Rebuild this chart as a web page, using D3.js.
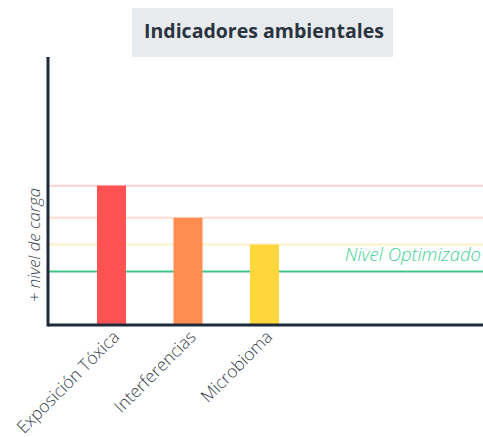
<!DOCTYPE html>
<html><head><meta charset="utf-8">
<script src="https://cdn.jsdelivr.net/npm/d3@7"></script>
<style>body{margin:0;background:#fff}svg{display:block}</style>
</head><body>
<svg id="c" width="483" height="437"></svg>
<script>
const categories = ["Exposición Tóxica", "Interferencias", "Microbioma"];
const values = [5.2, 4.0, 3.0];
const barColors = ["#ff5252", "#ff8c50", "#ffd63c"];
const refLevels = [5.2, 4.0, 3.0];
const refColors = ["#ffd0d0", "#ffdccc", "#fff0c8"];
const optimal = 2.0;
const optimalLabel = "Nivel Optimizado";
const title = "Indicadores ambientales";
const yLabel = "+ nivel de carga";

const svg = d3.select("#c");
const font = "'Open Sans', 'Noto Sans', sans-serif";
const x0 = 48, x1 = 483, yTop = 57, yBot = 325;

const y = d3.scaleLinear().domain([0, 10]).range([yBot, yTop]);
const x = d3.scaleBand().domain(categories).range([73.25, 302.75]).paddingInner(0.621).paddingOuter(0.31);

// title box
svg.append("rect").attr("x", 132).attr("y", 8).attr("width", 261).attr("height", 49).attr("fill", "#e8ebed");
svg.append("text").attr("x", 264).attr("y", 38).attr("text-anchor", "middle")
  .attr("font-family", font).attr("font-weight", 700).attr("font-size", 19.5).attr("fill", "#2a3340").text(title);

// reference lines
svg.selectAll(".ref").data(refLevels).enter().append("line")
  .attr("x1", x0).attr("x2", x1).attr("y1", d => y(d)).attr("y2", d => y(d))
  .attr("stroke", (d, i) => refColors[i]).attr("stroke-width", 2);

svg.append("line").attr("x1", x0).attr("x2", x1).attr("y1", y(optimal)).attr("y2", y(optimal))
  .attr("stroke", "#3cc88a").attr("stroke-width", 2);
svg.append("text").attr("x", 481).attr("y", y(optimal) - 10).attr("text-anchor", "end")
  .attr("font-family", font).attr("font-style", "italic").attr("font-weight", 300).attr("font-size", 18.5).attr("fill", "#46d096").text(optimalLabel);

// bars
svg.selectAll(".bar").data(values).enter().append("rect")
  .attr("x", (d, i) => x(categories[i])).attr("width", x.bandwidth())
  .attr("y", d => y(d)).attr("height", d => yBot - y(d))
  .attr("fill", (d, i) => barColors[i]);

// axes
const xAxis = svg.append("g").attr("transform", `translate(0,${yBot})`)
  .call(d3.axisBottom(x).tickSize(0).tickPadding(0));
xAxis.select(".domain").remove();
xAxis.selectAll("text")
  .attr("font-family", font).attr("font-size", 17.3).attr("font-weight", 300).attr("fill", "#3a4350")
  .attr("text-anchor", "end").attr("dy", 0)
  .attr("transform", "translate(9,13) rotate(-45)");

svg.append("line").attr("x1", x0).attr("x2", x1).attr("y1", yBot).attr("y2", yBot)
  .attr("stroke", "#1e2a3a").attr("stroke-width", 3);
svg.append("line").attr("x1", x0).attr("x2", x0).attr("y1", yTop).attr("y2", yBot + 1.5)
  .attr("stroke", "#1e2a3a").attr("stroke-width", 3);

svg.append("text").attr("transform", `translate(40,245) rotate(-90)`).attr("text-anchor", "middle")
  .attr("font-family", font).attr("font-style", "italic").attr("font-weight", 300).attr("font-size", 16.8).attr("fill", "#3a4350").text(yLabel);
</script>
</body></html>
